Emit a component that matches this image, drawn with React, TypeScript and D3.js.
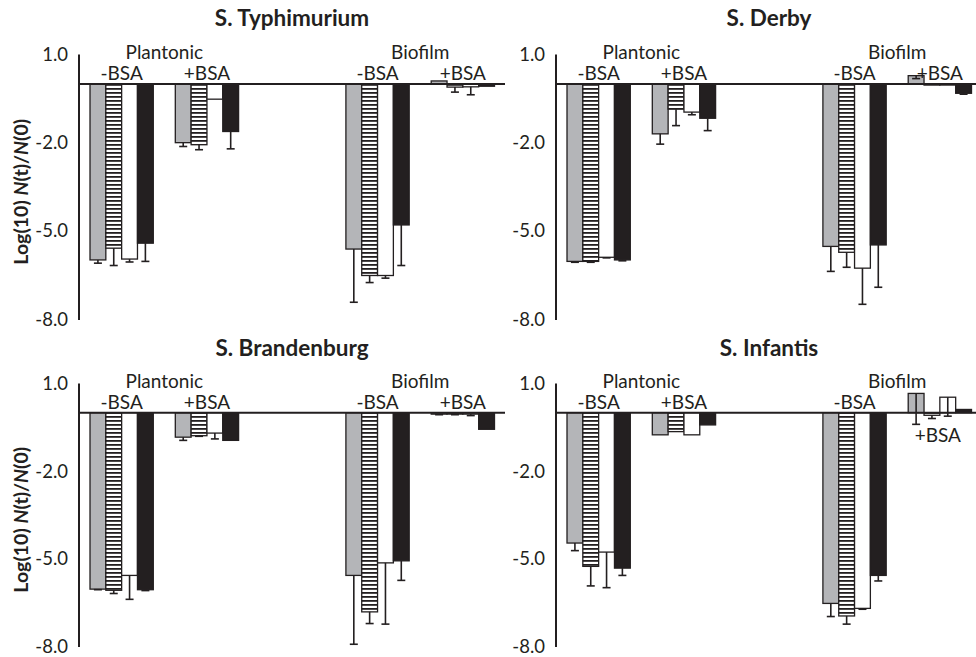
import React from "react";
import * as d3 from "d3";

// ---- data ----
const titles = ["S. Typhimurium", "S. Derby", "S. Brandenburg", "S. Infantis"];
const groups = ["Plantonic -BSA", "Plantonic +BSA", "gap", "Biofilm -BSA", "Biofilm +BSA"];
const barGroups = ["Plantonic -BSA", "Plantonic +BSA", "Biofilm -BSA", "Biofilm +BSA"];
const seriesNames = ["s1", "s2", "s3", "s4"];
const yTicks = [1.0, -2.0, -5.0, -8.0];

// values[groupIndex][seriesIndex]
const typhimuriumValues = [
  [-5.99, -5.59, -5.96, -5.42],
  [-2.0, -2.07, -0.52, -1.62],
  [-5.62, -6.52, -6.52, -4.8],
  [0.1, -0.11, -0.1, -0.08],
];
const typhimuriumErrors = [
  [0.11, 0.59, 0.1, 0.62],
  [0.13, 0.17, 0, 0.59],
  [1.81, 0.24, 0.09, 1.38],
  [0, 0.17, 0.27, 0],
];
const derbyValues = [
  [-6.04, -6.04, -5.9, -5.99],
  [-1.7, -0.86, -0.96, -1.17],
  [-5.53, -5.73, -6.27, -5.48],
  [0.28, -0.04, -0.04, -0.32],
];
const derbyErrors = [
  [0.03, 0.03, 0.02, 0.03],
  [0.35, 0.56, 0.09, 0.42],
  [0.85, 0.51, 1.23, 1.44],
  [0.1, 0, 0, 0.03],
];
const brandenburgValues = [
  [-6.05, -6.09, -5.58, -6.07],
  [-0.84, -0.79, -0.7, -0.95],
  [-5.58, -6.83, -5.15, -5.08],
  [-0.05, -0.05, -0.05, -0.57],
];
const brandenburgErrors = [
  [0.02, 0.11, 0.82, 0.03],
  [0.11, 0.02, 0.2, 0],
  [2.36, 0.4, 2.1, 0.67],
  [0.02, 0.02, 0.05, 0],
];
const infantisValues = [
  [-4.47, -5.27, -4.78, -5.33],
  [-0.76, -0.65, -0.76, -0.42],
  [-6.54, -6.97, -6.71, -5.58],
  [0.66, -0.09, 0.53, 0.11],
];
const infantisErrors = [
  [0.26, 0.67, 1.22, 0.25],
  [0, 0, 0, 0],
  [0.45, 0.28, 0.03, 0.19],
  [1.06, 0.11, 0.65, 0],
];

const panelValues = [typhimuriumValues, derbyValues, brandenburgValues, infantisValues];
const panelErrors = [typhimuriumErrors, derbyErrors, brandenburgErrors, infantisErrors];

// ---- styling ----
const FONT = "Lato, 'Open Sans', sans-serif";
const fills = ["#b4b5b8", "url(#stripes)", "#ffffff", "#231f20"];
const INK = "#231f20";
const LABEL_SIZE = 19;

const W = 976;
const H = 657;

function Panel({ idx }: { idx: number }) {
  const col = idx % 2;
  const row = Math.floor(idx / 2);
  const axisX = col === 0 ? 79 : 556;
  const top = row === 0 ? 54.5 : 383.5;
  const bottom = row === 0 ? 319 : 646;
  const y = d3.scaleLinear().domain([-8, 1]).range([bottom, top]);
  const x0 = d3
    .scaleBand<string>()
    .domain(groups)
    .range([axisX, axisX + 426.5])
    .paddingInner(0.258)
    .paddingOuter(0.129);
  const x1 = d3.scaleBand<string>().domain(seriesNames).range([0, x0.bandwidth()]);
  const vals = panelValues[idx];
  const errs = panelErrors[idx];
  const zero = y(0);
  const baseEnd = Math.min(axisX + 426, W);

  const cx = (g: string) => (x0(g) as number) + x0.bandwidth() / 2;
  const mid = (a: string, b: string) => (cx(a) + cx(b)) / 2;
  const dy = row === 0 ? 0 : 329.5;

  return (
    <g>
      <text
        x={(axisX + axisX + 426) / 2}
        y={26 + dy}
        textAnchor="middle"
        fontFamily={FONT}
        fontWeight="bold"
        fontSize={22.5}
        fill={INK}
      >
        {titles[idx]}
      </text>
      {/* bars */}
      {barGroups.map((g, gi) =>
        seriesNames.map((s, si) => {
          const v = vals[gi][si];
          const bx = (x0(g) as number) + (x1(s) as number);
          const bw = x1.bandwidth();
          const y1 = Math.min(y(v), zero);
          const h = Math.abs(y(v) - zero);
          return (
            <rect
              key={g + s}
              x={bx}
              y={y1}
              width={bw}
              height={h}
              fill={fills[si]}
              stroke={INK}
              strokeWidth={1.3}
            />
          );
        })
      )}
      {/* error bars (minus direction) */}
      {barGroups.map((g, gi) =>
        seriesNames.map((s, si) => {
          const e = errs[gi][si];
          if (!e) return null;
          const v = vals[gi][si];
          const ex = (x0(g) as number) + (x1(s) as number) + x1.bandwidth() / 2;
          const ya = y(v);
          const yb = y(v - e);
          return (
            <g key={"e" + g + s} stroke={INK} strokeWidth={1.6}>
              <line x1={ex} x2={ex} y1={ya} y2={yb} />
              <line x1={ex - 4} x2={ex + 4} y1={yb} y2={yb} />
            </g>
          );
        })
      )}
      {/* axes */}
      <line x1={axisX} x2={axisX} y1={top} y2={bottom + 1} stroke={INK} strokeWidth={2} />
      <line x1={axisX} x2={baseEnd} y1={zero} y2={zero} stroke={INK} strokeWidth={2} />
      {yTicks.map((t) => (
        <text
          key={t}
          x={axisX - 11}
          y={y(t)}
          dy="0.36em"
          textAnchor="end"
          fontFamily={FONT}
          fontSize={18.5}
          fill={INK}
        >
          {t.toFixed(1)}
        </text>
      ))}
      {/* group labels */}
      <text x={mid("Plantonic -BSA", "Plantonic +BSA")} y={58.5 + dy} textAnchor="middle" fontFamily={FONT} fontSize={LABEL_SIZE} fill={INK}>
        Plantonic
      </text>
      <text x={mid("Biofilm -BSA", "Biofilm +BSA")} y={58.5 + dy} textAnchor="middle" fontFamily={FONT} fontSize={LABEL_SIZE} fill={INK}>
        Biofilm
      </text>
      <text x={cx("Plantonic -BSA")} y={79.5 + dy} textAnchor="middle" fontFamily={FONT} fontSize={LABEL_SIZE} fill={INK}>
        -BSA
      </text>
      <text x={cx("Plantonic +BSA")} y={79.5 + dy} textAnchor="middle" fontFamily={FONT} fontSize={LABEL_SIZE} fill={INK}>
        +BSA
      </text>
      <text x={cx("Biofilm -BSA")} y={79.5 + dy} textAnchor="middle" fontFamily={FONT} fontSize={LABEL_SIZE} fill={INK}>
        -BSA
      </text>
      <text
        x={cx("Biofilm +BSA") + (idx === 3 ? -2 : 0)}
        y={(idx === 3 ? 441.5 - 329.5 : 79.5) + dy}
        textAnchor="middle"
        fontFamily={FONT}
        fontSize={LABEL_SIZE}
        fill={INK}
      >
        +BSA
      </text>
      {col === 0 && (
        <text
          transform={`translate(${28},${(top + bottom) / 2 + 5}) rotate(-90)`}
          textAnchor="middle"
          fontFamily={FONT}
          fontWeight="bold"
          fontSize={19.5}
          fill={INK}
        >
          Log(10) <tspan fontStyle="italic">N</tspan>(t)/<tspan fontStyle="italic">N</tspan>(0)
        </text>
      )}
    </g>
  );
}

export default function App() {
  return (
    <div style={{ position: "absolute", left: 0, top: 0 }}>
      <svg width={W} height={H} style={{ display: "block", background: "#fff" }}>
        <defs>
          <pattern id="stripes" patternUnits="userSpaceOnUse" width={8} height={4}>
            <rect x={0} y={0} width={8} height={4} fill="#fff" />
            <rect x={0} y={0} width={8} height={1.8} fill={INK} />
          </pattern>
        </defs>
        {[0, 1, 2, 3].map((i) => (
          <Panel key={i} idx={i} />
        ))}
      </svg>
    </div>
  );
}
